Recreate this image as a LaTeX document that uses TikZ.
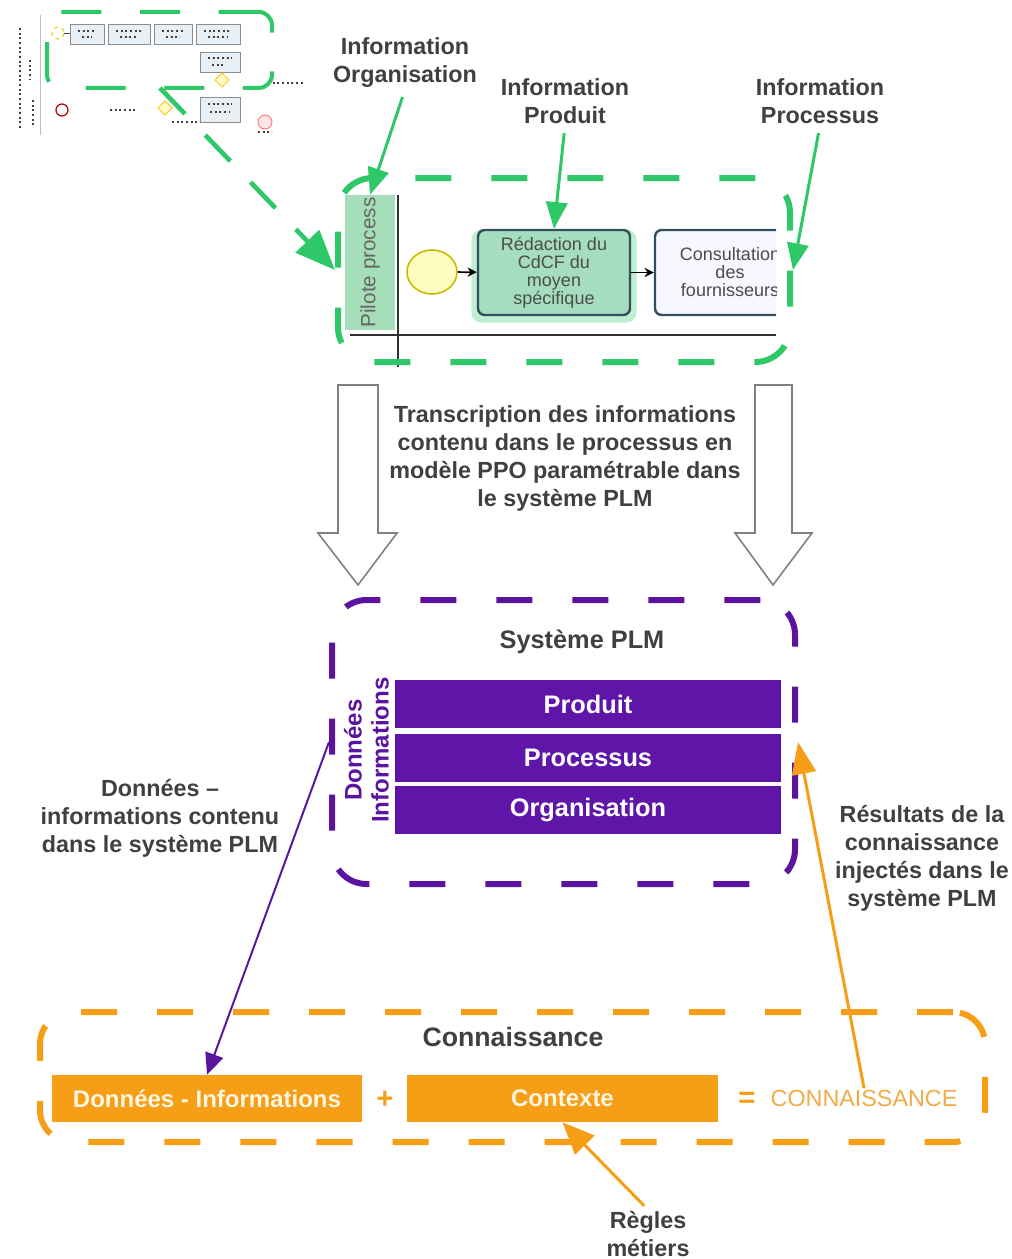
\documentclass[tikz,border=0pt]{standalone}
\usepackage{fontspec}
\setmainfont{Liberation Sans}
\usetikzlibrary{arrows.meta,shapes.geometric}
\definecolor{gr}{RGB}{46,200,105}
\definecolor{pu}{RGB}{90,20,160}
\definecolor{barc}{RGB}{95,22,168}
\definecolor{og}{RGB}{245,158,22}
\definecolor{ogt}{RGB}{240,172,70}
\definecolor{lblc}{RGB}{64,64,64}
\definecolor{lanec}{RGB}{165,222,185}
\definecolor{taskg}{RGB}{165,222,190}
\definecolor{taskb}{RGB}{52,78,92}
\definecolor{boxtxt}{RGB}{255,246,225}
\definecolor{thumbbox}{RGB}{232,240,246}
\begin{document}
\begin{tikzpicture}[x=0.75pt,y=-0.75pt,
  lbl/.style={font=\bfseries\fontsize{17.5}{21}\selectfont,text=lblc,align=center,inner sep=1pt},
  gframe/.style={draw=gr,line width=4.5pt,dash pattern=on 27pt off 30pt,rounded corners=26pt,rectangle},
  pframe/.style={draw=pu,line width=4.5pt,dash pattern=on 27pt off 30pt,rounded corners=26pt,rectangle},
  oframe/.style={draw=og,line width=4.5pt,dash pattern=on 27pt off 30pt,rounded corners=24pt,rectangle},
  garr/.style={draw=gr,line width=2.25pt,-{Triangle[length=20pt,width=16pt]},shorten <=6pt},
  bpmnarr/.style={draw=black,line width=1.3pt,-{Stealth[length=7pt,width=7pt]}},
  taskbox/.style={rectangle,rounded corners=5pt,draw=taskb,line width=1.8pt,font=\fontsize{13.5}{13.5}\selectfont,text=black!70,align=center,minimum height=63.75pt},
  barbox/.style={rectangle,fill=barc,text=white,font=\bfseries\fontsize{19}{22}\selectfont,minimum width=289.5pt,minimum height=36pt,inner sep=0pt},
  obox/.style={rectangle,fill=og,text=boxtxt,font=\bfseries\fontsize{18}{22}\selectfont,minimum width=232.5pt,minimum height=35.25pt,inner sep=0pt},
  vtxt/.style={rotate=90,text=pu,font=\bfseries\fontsize{18}{20}\selectfont,inner sep=0pt},
  hollow/.style={draw=black!50,fill=white,line width=1.2pt,line join=miter},
  tb/.style={fill=thumbbox,draw=black!45,line width=0.5pt},
  tmark/.style={draw=black!75,line width=1pt,dash pattern=on 1.5pt off 2pt}
]
\useasboundingbox (0,0) rectangle (1011,1259);

% ---------------- thumbnail (top left) ----------------
\draw[black!25,line width=0.5pt] (40,15) -- (40,135);
\draw[tmark] (20,28) -- (20,130);
\draw[tmark] (30,60) -- (30,80);
\draw[tmark] (33,100) -- (33,128);
\foreach \a/\b in {70/104,108/150,154/192,196/240}{
  \draw[tb] (\a,24) rectangle (\b,44);
  \draw[tmark] (\a+8,31) -- (\b-8,31);
  \draw[tmark] (\a+12,37) -- (\b-12,37);
}
\draw[tb] (200,52) rectangle (240,72);
\draw[tmark] (208,58) -- (232,58);
\draw[tmark] (212,65) -- (226,65);
\draw[tb] (200,97) rectangle (240,122);
\draw[tmark] (208,104) -- (232,104);
\draw[tmark] (210,112) -- (230,112);
\draw[yellow!70!olive,line width=0.8pt,dashed] (58,33) circle[radius=6];
\draw[black!70,line width=0.6pt] (64,33) -- (70,33);
\draw[yellow!60!orange,fill=yellow!20,line width=0.6pt] (222,73) -- (229,80) -- (222,87) -- (215,80) -- cycle;
\draw[yellow!60!orange,fill=yellow!20,line width=0.6pt] (165,101) -- (172,108) -- (165,115) -- (158,108) -- cycle;
\draw[red!70!black,line width=0.9pt] (62,110) circle[radius=6];
\draw[red!60,fill=pink!40,line width=0.6pt] (265,122) circle[radius=7];
\draw[tmark] (258,132) -- (272,132);
\draw[tmark] (110,110) -- (135,110);
\draw[tmark] (172,122) -- (200,122);
\draw[tmark] (268,83) -- (305,83);
\node[draw=gr,line width=3pt,dash pattern=on 30pt off 29pt,rounded corners=10pt,rectangle,
      minimum width=168.75pt,minimum height=57pt,inner sep=0pt] (thumb) at (159.5,50) {};
\coordinate (tstart) at (160,88);

% ---------------- process pool ----------------
\node[rectangle,fill=lanec,minimum width=37.5pt,minimum height=101.25pt,inner sep=0pt] (lanehdr) at (370,262.5) {};
\node[rotate=90,text=black!60,font=\fontsize{15.5}{16}\selectfont] (lanetxt) at (lanehdr.center) {Pilote process};
\draw[black!80,line width=1pt] (398,195) -- (398,367);
\draw[black!80,line width=1pt] (350,335) -- (776,335);
\node[ellipse,fill=yellow!25,draw=yellow!50!olive,line width=1.2pt,minimum width=37.5pt,minimum height=33pt,inner sep=0pt] (start) at (432,272) {};
\node[rectangle,rounded corners=8pt,fill=gr!30,minimum width=124pt,minimum height=70pt] (glow) at (554,276) {};
\node[taskbox,fill=taskg,minimum width=114pt] (task1) at (554,272.5) {Rédaction du\\CdCF du\\moyen\\spécifique};
\begin{scope}
  \clip (640,220) rectangle (776,330);
  \node[taskbox,fill=blue!3,minimum width=112.5pt] (task2) at (730,272.5) {Consultation\\des\\fournisseurs};
\end{scope}
\draw[bpmnarr] (start) -- (task1);
\draw[bpmnarr] (task1.east) -- (task2.west);
\node[gframe,minimum width=339pt,minimum height=138pt] (pool) at (564,270) {};

% top labels
\node[lbl] (lorg) at (405,63) {Information\\Organisation};
\node[lbl] (lprod) at (565,101) {Information\\Produit};
\node[lbl] (lproc) at (820,101) {Information\\Processus};
\draw[garr] (lorg.south) -- (lanehdr.north);
\draw[garr] (lprod.south) -- (task1.north);
\draw[garr] (lproc.south) -- (pool.east);
\draw[draw=gr,line width=3.5pt,dash pattern=on 27pt off 22pt,-{Triangle[length=30pt,width=24pt]}] (tstart) -- (pool.west);

% ---------------- hollow arrows ----------------
\draw[hollow] (338,385) -- (378,385) -- (378,533) -- (397,533) -- (358,585) -- (318,533) -- (338,533) -- cycle;
\draw[hollow] (755,385) -- (792,385) -- (792,533) -- (812,533) -- (773,585) -- (735,533) -- (755,533) -- cycle;
\node[lbl] (ltrans) at (565,458) {Transcription des informations\\contenu dans le processus en\\modèle PPO paramétrable dans\\le système PLM};

% ---------------- PLM ----------------
\node[pframe,minimum width=347.25pt,minimum height=213pt] (plm) at (563.5,742) {};
\node[lbl,font=\bfseries\fontsize{19}{22}\selectfont] (plmtitle) at (582,642) {Système PLM};
\node[barbox] (bprod) at (588,704) {Produit};
\node[barbox] (bproc) at (588,757.5) {Processus};
\node[barbox] (borg) at (588,809.5) {Organisation};
\node[vtxt] (vdon) at (353,750) {Données};
\node[vtxt] (vinf) at (380,750) {Informations};

\node[lbl] (ldon) at (160,818) {Données –\\informations contenu\\dans le système PLM};
\node[lbl] (lres) at (922,858) {Résultats de la\\connaissance\\injectés dans le\\système PLM};

% ---------------- Connaissance ----------------
\node[oframe,minimum width=708.75pt,minimum height=97.5pt] (kbox) at (512.5,1077) {};
\node[lbl,font=\bfseries\fontsize{20}{22}\selectfont] (ktitle) at (513,1037) {Connaissance};
\node[obox] (donbox) at (207,1098.5) {Données - Informations};
\node[obox,minimum width=233.25pt] (ctxbox) at (562.5,1098.5) {Contexte};
\node[text=og,font=\bfseries\fontsize{22}{22}\selectfont] (plus) at (385,1100) {+};
\node[text=og,font=\bfseries\fontsize{22}{22}\selectfont] (eq) at (747,1100) {=};
\node[text=ogt,font=\fontsize{17.5}{20}\selectfont,inner sep=1pt] (cres) at (864,1098) {CONNAISSANCE};
\node[lbl] (lregles) at (648,1234) {Règles\\métiers};

% connectors
\draw[draw=pu,line width=1.5pt,-{Triangle[length=16pt,width=14pt]}] (plm.west) -- (donbox.north);
\draw[draw=og,line width=2.25pt,-{Triangle[length=24pt,width=18pt]}] (cres.north) -- (plm.east);
\draw[draw=og,line width=2.25pt,-{Triangle[length=24pt,width=20pt]},shorten <=4pt] (lregles.north) -- (ctxbox.south);
\end{tikzpicture}
\end{document}
